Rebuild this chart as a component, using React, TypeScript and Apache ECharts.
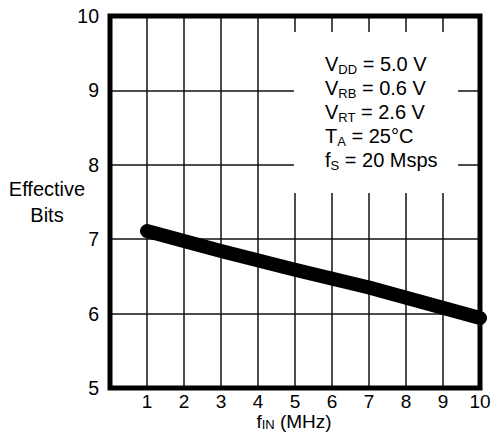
import React, { useEffect, useRef } from "react";
import * as echarts from "echarts";

const xTicks = [0, 1, 2, 3, 4, 5, 6, 7, 8, 9, 10];
const yTicks = [5, 6, 7, 8, 9, 10];
const freqMHz = [1, 3, 5, 7, 10];
const effectiveBits = [7.11, 6.84, 6.59, 6.35, 5.94];
const conditions = [
  ["V", "DD", " = 5.0 V"],
  ["V", "RB", " = 0.6 V"],
  ["V", "RT", " = 2.6 V"],
  ["T", "A", " = 25°C"],
  ["f", "S", " = 20 Msps"],
];
const yName = ["Effective", "Bits"];
const xName = ["f", "IN", " (MHz)"];

const FONT = "'Liberation Sans', Arial, Helvetica, sans-serif";

const subRich = (size: number, lh: number) => ({
  m: { fontSize: size, lineHeight: lh, fontFamily: FONT, fill: "#000" },
  s: {
    fontSize: 13,
    lineHeight: 12,
    verticalAlign: "bottom",
    fontFamily: FONT,
    fill: "#000",
  },
});

export default function App() {
  const ref = useRef<HTMLDivElement>(null);
  useEffect(() => {
    if (!ref.current) return;
    document.body.style.margin = "0";
    const chart = echarts.init(ref.current, null, { renderer: "svg" });
    const condElems = conditions.map((c, i) => ({
      type: "text",
      z: 51,
      x: 325,
      y: 64 + i * 24,
      style: {
        text: `{m|${c[0]}}{s|${c[1]}}{m|${c[2]}}`,
        fill: "#000",
        align: "left",
        verticalAlign: "middle",
        rich: subRich(20, 24),
      },
    }));
    chart.setOption({
      animation: false,
      backgroundColor: "#fff",
      grid: {
        left: 110,
        right: 16,
        top: 16,
        bottom: 50,
        show: true,
        borderColor: "#000",
        borderWidth: 5,
        z: 5,
      },
      xAxis: {
        type: "value",
        min: xTicks[0],
        max: xTicks[xTicks.length - 1],
        interval: 1,
        axisLine: { show: false },
        axisTick: { show: false },
        axisLabel: {
          margin: 5,
          fontSize: 19,
          lineHeight: 16,
          color: "#000",
          fontFamily: FONT,
          formatter: (v: number) => (v === 0 ? "" : String(v)),
        },
        splitLine: { show: true, lineStyle: { color: "#111", width: 1.5 } },
      },
      yAxis: {
        type: "value",
        min: yTicks[0],
        max: yTicks[yTicks.length - 1],
        interval: 1,
        axisLine: { show: false },
        axisTick: { show: false },
        axisLabel: {
          margin: 11,
          fontSize: 19.5,
          color: "#000",
          fontFamily: FONT,
        },
        splitLine: { show: true, lineStyle: { color: "#111", width: 1.5 } },
      },
      series: [
        {
          type: "line",
          data: freqMHz.map((x, i) => [x, effectiveBits[i]]),
          symbol: "none",
          clip: true,
          z: 10,
          lineStyle: { color: "#000", width: 14, cap: "round", join: "round" },
        },
      ],
      graphic: [
        {
          type: "rect",
          z: 50,
          shape: { x: 294, y: 32, width: 164, height: 161 },
          style: { fill: "#fff" },
        },
        ...condElems,
        {
          type: "text",
          z: 51,
          x: 47,
          y: 202,
          style: {
            text: yName.join("\n"),
            fill: "#000",
            font: `20px ${FONT}`,
            lineHeight: 26,
            align: "center",
            verticalAlign: "middle",
          },
        },
        {
          type: "text",
          z: 51,
          x: 294,
          y: 421,
          style: {
            text: `{m|${xName[0]}}{s|${xName[1]}}{m|${xName[2]}}`,
            fill: "#000",
            align: "center",
            verticalAlign: "middle",
            rich: subRich(19, 20),
          },
        },
      ],
    });
    return () => chart.dispose();
  }, []);
  return <div ref={ref} style={{ width: 496, height: 438 }} />;
}
